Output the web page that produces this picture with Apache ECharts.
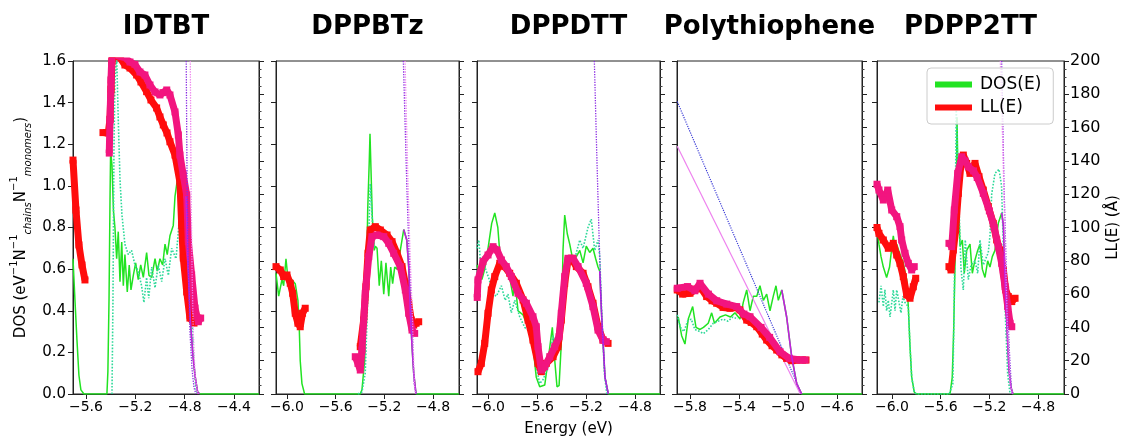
<!DOCTYPE html>
<html>
<head>
<meta charset="utf-8">
<script src="https://cdn.jsdelivr.net/npm/echarts@6/dist/echarts.min.js"></script>
<style>
  html, body { margin: 0; padding: 0; background: #fff; }
  #chart { width: 1126px; height: 438px; }
</style>
</head>
<body>
<div id="chart"></div>
<script>
// ---- data: [energy (eV), value] ----
// IDTBT
var idtbtDos = [[-5.705,0.65],[-5.689,0.45],[-5.673,0.26],[-5.657,0.09],[-5.641,0.02],[-5.616,0],[-5.430,0],[-5.422,0.11],[-5.413,0.45],[-5.405,0.93],[-5.400,1.17],[-5.389,1.10],[-5.377,0.88],[-5.365,0.80],[-5.351,0.65],[-5.338,0.78],[-5.324,0.54],[-5.310,0.73],[-5.297,0.52],[-5.284,0.67],[-5.265,0.49],[-5.249,0.62],[-5.235,0.50],[-5.216,0.57],[-5.197,0.63],[-5.176,0.55],[-5.156,0.62],[-5.135,0.56],[-5.108,0.68],[-5.089,0.57],[-5.067,0.56],[-5.040,0.65],[-5.022,0.59],[-5.000,0.65],[-4.978,0.62],[-4.959,0.72],[-4.941,0.67],[-4.919,0.76],[-4.892,0.81],[-4.878,0.95],[-4.854,1.05],[-4.821,1.06],[-4.789,0.95],[-4.773,0.62],[-4.753,0.35],[-4.732,0.18],[-4.716,0.09],[-4.695,0.01],[-4.675,0],[-4.197,0]];
var idtbtDosDot = [[-5.389,0],[-5.381,0.45],[-5.373,1.17],[-5.365,1.51],[-5.351,1.62],[-5.338,1.32],[-5.324,1.03],[-5.308,0.86],[-5.284,0.72],[-5.257,0.67],[-5.230,0.69],[-5.203,0.62],[-5.176,0.59],[-5.149,0.52],[-5.130,0.44],[-5.108,0.56],[-5.091,0.46],[-5.067,0.61],[-5.040,0.51],[-5.014,0.62],[-4.986,0.54],[-4.959,0.65],[-4.932,0.57],[-4.905,0.70],[-4.870,0.65],[-4.851,0.78],[-4.838,0.89],[-4.805,0.96],[-4.780,0.99],[-4.765,0.90],[-4.748,0.50],[-4.730,0.20],[-4.710,0.03],[-4.695,0]];
var idtbtDrop = [[-4.789,0.95],[-4.773,0.62],[-4.753,0.35],[-4.732,0.18],[-4.716,0.09],[-4.695,0.01],[-4.680,0]];
var idtbtEdgeA = [[-4.795,2.2],[-4.787,1.6],[-4.780,1.0],[-4.770,0.6],[-4.757,0.3],[-4.740,0.12],[-4.724,0.03],[-4.708,0]];
var idtbtEdgeB = [[-4.760,2.2],[-4.754,1.6],[-4.748,1.0],[-4.740,0.6],[-4.730,0.3],[-4.716,0.1],[-4.700,0.02],[-4.690,0]];
var idtbtLL = [[-5.705,140.5],[-5.681,110.5],[-5.657,89.5],[-5.632,77.5],[-5.608,68.5],[-5.55,null],[-5.462,157],[-5.419,156.8],[-5.405,165],[-5.397,183],[-5.389,200],[-5.373,207],[-5.357,203],[-5.324,202],[-5.284,197.6],[-5.243,195.8],[-5.189,191.6],[-5.154,187.4],[-5.108,181.6],[-5.073,176.6],[-5.027,171.8],[-5.0,166.4],[-4.973,161.6],[-4.943,156.8],[-4.919,151.5],[-4.878,143.5],[-4.838,127.3],[-4.824,101.5],[-4.811,81.7],[-4.783,61.3],[-4.757,45.6],[-4.724,42.6],[-4.692,45.6]];
var idtbtLL2 = [[-5.411,144.7],[-5.405,164.6],[-5.397,188.6],[-5.389,205],[-5.340,203],[-5.284,202],[-5.243,199.4],[-5.203,198],[-5.162,193.4],[-5.122,191.6],[-5.081,185.6],[-5.040,181.4],[-5.000,179.6],[-4.976,181],[-4.945,182.6],[-4.919,179.6],[-4.878,169.4],[-4.851,155.6],[-4.838,143.5],[-4.811,131.5],[-4.783,119.5],[-4.770,91.5],[-4.743,71.5],[-4.716,51.6],[-4.689,43.4],[-4.670,45.6]];

// DPPBTz
var dppbtzDos = [[-6.09,0.58],[-6.068,0.47],[-6.041,0.55],[-6.027,0.52],[-6.008,0.65],[-5.986,0.52],[-5.962,0.55],[-5.932,0.53],[-5.910,0.45],[-5.899,0.32],[-5.891,0.16],[-5.877,0.05],[-5.855,0],[-5.398,0],[-5.384,0.02],[-5.362,0.16],[-5.348,0.48],[-5.337,0.88],[-5.324,1.12],[-5.318,1.25],[-5.299,0.85],[-5.283,0.69],[-5.274,0.71],[-5.260,0.70],[-5.242,0.52],[-5.225,0.64],[-5.205,0.48],[-5.187,0.63],[-5.164,0.47],[-5.148,0.61],[-5.132,0.53],[-5.115,0.61],[-5.096,0.60],[-5.069,0.69],[-5.041,0.79],[-5.016,0.74],[-5.000,0.61],[-4.987,0.40],[-4.973,0.23],[-4.959,0.10],[-4.940,0],[-4.587,0]];
var dppbtzDosDot = [[-5.417,0],[-5.384,0.01],[-5.357,0.1],[-5.337,0.45],[-5.324,0.85],[-5.316,1.01],[-5.302,0.86],[-5.283,0.70]];
var dppbtzDrop = [[-5.041,0.79],[-5.016,0.74],[-5.000,0.61],[-4.987,0.40],[-4.973,0.23],[-4.959,0.10],[-4.940,0]];
var dppbtzEdgeA = [[-5.055,1.9],[-5.044,1.6],[-5.016,1.01],[-4.998,0.69],[-4.975,0.37],[-4.956,0.05],[-4.940,0]];
var dppbtzEdgeB = [[-5.040,1.9],[-5.030,1.6],[-5.006,1.01],[-4.990,0.69],[-4.970,0.37],[-4.954,0.05],[-4.944,0]];
var dppbtzLL = [[-6.09,76.5],[-6.055,74.5],[-6.027,70.5],[-6.0,71.5],[-5.973,66.5],[-5.953,60.5],[-5.932,48.5],[-5.910,42.5],[-5.891,40.4],[-5.872,48.5],[-5.850,51.5],[-5.6,null],[-5.398,28.4],[-5.370,44.4],[-5.351,64.4],[-5.334,84.5],[-5.316,98.5],[-5.274,100.5],[-5.233,98.5],[-5.178,95.5],[-5.137,91.5],[-5.096,84.5],[-5.055,76.5],[-5.028,66.5],[-5.000,54.5],[-4.979,44.4],[-4.959,41.4],[-4.940,42.5],[-4.918,43.4]];
var dppbtzLL2 = [[-5.439,22.4],[-5.417,18.4],[-5.398,14.4],[-5.384,26.4],[-5.357,60.5],[-5.328,82.5],[-5.302,94.5],[-5.260,95.5],[-5.205,94.5],[-5.164,90.5],[-5.123,84.5],[-5.069,76.5],[-5.028,62.5],[-5.000,48.5],[-4.973,38.4],[-4.951,36.4]];

// DPPDTT
var dppdttDos = [[-6.09,0.62],[-6.07,0.58],[-6.05,0.55],[-6.027,0.60],[-6.0,0.70],[-5.97,0.82],[-5.945,0.87],[-5.92,0.80],[-5.90,0.65],[-5.891,0.61],[-5.864,0.60],[-5.823,0.56],[-5.796,0.47],[-5.782,0.55],[-5.755,0.40],[-5.714,0.38],[-5.673,0.32],[-5.633,0.23],[-5.606,0.08],[-5.578,0.035],[-5.537,0.043],[-5.510,0.16],[-5.475,0.32],[-5.455,0.16],[-5.437,0.035],[-5.420,0.04],[-5.402,0.24],[-5.388,0.69],[-5.374,0.86],[-5.353,0.77],[-5.333,0.72],[-5.306,0.64],[-5.279,0.66],[-5.251,0.69],[-5.224,0.63],[-5.198,0.71],[-5.170,0.68],[-5.143,0.70],[-5.121,0.65],[-5.102,0.61],[-5.088,0.59],[-5.072,0.37],[-5.045,0.08],[-5.018,0],[-4.596,0]];
var dppdttDosDot = [[-6.09,0.70],[-6.075,0.74],[-6.06,0.62],[-6.04,0.66],[-6.02,0.60],[-5.99,0.55],[-5.96,0.48],[-5.932,0.47],[-5.891,0.52],[-5.86,0.45],[-5.837,0.48],[-5.810,0.39],[-5.782,0.45],[-5.741,0.37],[-5.700,0.32],[-5.660,0.30],[-5.606,0.13],[-5.578,0.05],[-5.55,0.07],[-5.510,0.13],[-5.469,0.28],[-5.429,0.20],[-5.402,0.29],[-5.382,0.48],[-5.347,0.64],[-5.306,0.62],[-5.251,0.74],[-5.224,0.70],[-5.184,0.80],[-5.157,0.84],[-5.129,0.69],[-5.102,0.74],[-5.088,0.66],[-5.072,0.40],[-5.05,0.1],[-5.03,0]];
var dppdttDrop = [[-5.088,0.59],[-5.072,0.37],[-5.045,0.08],[-5.018,0]];
var dppdttEdgeA = [[-5.14,1.9],[-5.132,1.6],[-5.113,1.17],[-5.094,0.77],[-5.072,0.37],[-5.045,0.083],[-5.018,0]];
var dppdttLL = [[-6.082,13.4],[-6.055,18.4],[-6.027,30.4],[-6.0,48.5],[-5.973,62.5],[-5.945,70.5],[-5.904,78.5],[-5.864,76.5],[-5.823,72.5],[-5.769,66.5],[-5.714,56.5],[-5.673,44.4],[-5.633,32.4],[-5.592,18.4],[-5.565,13.4],[-5.524,18.4],[-5.469,22.4],[-5.429,28.4],[-5.402,44.4],[-5.374,66.5],[-5.347,80.5],[-5.320,81.5],[-5.279,76.5],[-5.224,72.5],[-5.184,64.4],[-5.143,54.5],[-5.102,40.4],[-5.061,32.4],[-5.020,30.4]];
var dppdttLL2 = [[-6.088,58],[-6.082,68.5],[-6.041,79.5],[-6.0,83.5],[-5.959,88.5],[-5.927,86.5],[-5.891,80.5],[-5.851,76.5],[-5.810,70.5],[-5.755,60.5],[-5.687,54.5],[-5.633,46.4],[-5.606,40.4],[-5.592,28.4],[-5.565,14.4],[-5.537,16.4],[-5.496,22.4],[-5.455,28.4],[-5.420,34.4],[-5.402,48.5],[-5.374,70.5],[-5.347,81.5],[-5.306,81.5],[-5.265,76.5],[-5.198,66.5],[-5.143,52.5],[-5.102,38.4],[-5.061,32.4],[-5.034,31.4]];

// Polythiophene
var ptDos = [[-5.896,0.37],[-5.868,0.28],[-5.841,0.24],[-5.814,0.36],[-5.778,0.42],[-5.751,0.32],[-5.718,0.31],[-5.69,0.32],[-5.651,0.34],[-5.623,0.39],[-5.60,0.34],[-5.555,0.37],[-5.51,0.38],[-5.47,0.37],[-5.433,0.39],[-5.392,0.36],[-5.365,0.44],[-5.337,0.50],[-5.310,0.40],[-5.283,0.47],[-5.255,0.47],[-5.229,0.52],[-5.201,0.45],[-5.174,0.48],[-5.147,0.40],[-5.120,0.47],[-5.098,0.52],[-5.079,0.45],[-5.051,0.50],[-5.038,0.50],[-5.011,0.37],[-4.970,0.18],[-4.929,0.05],[-4.888,0],[-4.396,0]];
var ptDosDot = [[-5.904,0.38],[-5.878,0.32],[-5.85,0.30],[-5.82,0.35],[-5.79,0.36],[-5.76,0.31],[-5.72,0.30],[-5.69,0.29],[-5.65,0.31],[-5.61,0.34],[-5.57,0.35],[-5.53,0.36],[-5.49,0.35],[-5.45,0.37],[-5.41,0.36]];
var ptDrop = [[-5.051,0.50],[-5.038,0.50],[-5.011,0.37],[-4.970,0.18],[-4.929,0.05],[-4.888,0]];
var ptEdgeA = [[-5.904,1.405],[-4.890,0]];
var ptEdgeB = [[-5.904,1.19],[-4.900,0]];
var ptLL = [[-5.904,62.5],[-5.86,60],[-5.80,60.5],[-5.75,63],[-5.718,64.4],[-5.664,58.5],[-5.62,56],[-5.582,54.5],[-5.53,52],[-5.473,51.5],[-5.43,52],[-5.392,50.5],[-5.337,44.4],[-5.30,43],[-5.255,40.4],[-5.21,36],[-5.174,32.4],[-5.13,29],[-5.092,26.4],[-5.05,23.5],[-5.011,21.4],[-4.97,20],[-4.929,20.4],[-4.853,20.4]];
var ptLL2 = [[-5.904,63.5],[-5.82,64.5],[-5.76,62],[-5.718,66.5],[-5.65,60],[-5.582,56],[-5.50,54],[-5.419,52.5],[-5.36,48],[-5.310,46.4],[-5.22,40],[-5.15,34],[-5.065,25.4],[-4.99,21.4],[-4.90,20.4],[-4.86,20.4]];

// PDPP2TT
var pdppDos = [[-6.123,0.80],[-6.107,0.72],[-6.09,0.66],[-6.071,0.61],[-6.044,0.56],[-6.02,0.61],[-6.002,0.70],[-5.989,0.76],[-5.975,0.70],[-5.961,0.72],[-5.94,0.68],[-5.907,0.63],[-5.879,0.55],[-5.866,0.42],[-5.852,0.23],[-5.838,0.08],[-5.817,0.01],[-5.80,0],[-5.523,0],[-5.505,0.08],[-5.493,0.31],[-5.482,0.63],[-5.472,0.85],[-5.466,1.33],[-5.455,0.95],[-5.441,0.71],[-5.422,0.74],[-5.406,0.58],[-5.386,0.69],[-5.359,0.72],[-5.340,0.58],[-5.32,0.64],[-5.296,0.69],[-5.277,0.72],[-5.258,0.60],[-5.236,0.56],[-5.214,0.64],[-5.195,0.61],[-5.176,0.66],[-5.154,0.69],[-5.127,0.82],[-5.099,0.87],[-5.085,0.81],[-5.071,0.55],[-5.055,0.31],[-5.039,0.115],[-5.022,0.03],[-5.006,0],[-4.587,0]];
var pdppDosDot = [[-6.107,0.44],[-6.09,0.52],[-6.071,0.42],[-6.058,0.50],[-6.044,0.40],[-6.030,0.45],[-6.016,0.37],[-5.989,0.50],[-5.975,0.40],[-5.961,0.50],[-5.926,0.39],[-5.91,0.47],[-5.893,0.44],[-5.866,0.42],[-5.852,0.23],[-5.838,0.08],[-5.817,0.01],[-5.80,0],[-5.53,0],[-5.50,0.05],[-5.49,0.4],[-5.48,0.9],[-5.472,1.38],[-5.46,1.1],[-5.433,0.60],[-5.414,0.50],[-5.398,0.74],[-5.373,0.55],[-5.35,0.62],[-5.318,0.64],[-5.296,0.58],[-5.277,0.74],[-5.25,0.62],[-5.209,0.68],[-5.195,0.76],[-5.181,0.96],[-5.154,1.06],[-5.121,1.08],[-5.10,1.00],[-5.085,0.70],[-5.07,0.4],[-5.05,0.1],[-5.03,0]];
var pdppDrop = [[-5.099,0.87],[-5.085,0.81],[-5.071,0.55],[-5.055,0.31],[-5.039,0.115],[-5.022,0.03],[-5.006,0]];
var pdppEdgeA = [[-5.11,1.9],[-5.099,1.6],[-5.080,1.01],[-5.058,0.53],[-5.036,0.21],[-5.016,0]];
var pdppEdgeB = [[-5.125,1.9],[-5.11,1.6],[-5.09,1.2],[-5.07,0.7],[-5.05,0.3],[-5.03,0.05],[-5.01,0]];
var pdppLL = [[-6.123,100],[-6.107,96.5],[-6.071,92.5],[-6.030,87.5],[-5.989,90.5],[-5.961,83.5],[-5.934,78.5],[-5.907,70.5],[-5.879,59.5],[-5.852,57.5],[-5.825,64.4],[-5.805,69.5],[-5.7,null],[-5.532,76.5],[-5.515,74.5],[-5.496,86.5],[-5.477,98.5],[-5.455,120.5],[-5.433,138.5],[-5.414,143.5],[-5.386,138.5],[-5.359,132.5],[-5.340,136.5],[-5.318,138.5],[-5.285,130.5],[-5.250,122.5],[-5.209,112.5],[-5.168,102.5],[-5.140,92.5],[-5.113,86.5],[-5.085,74.5],[-5.066,62.5],[-5.044,58.5],[-5.016,55.5],[-4.989,57.5]];
var pdppLL2 = [[-6.123,126],[-6.107,122.5],[-6.071,116.5],[-6.035,122.5],[-6.002,110.5],[-5.961,106.5],[-5.934,100.5],[-5.920,92.5],[-5.893,84.5],[-5.866,78.5],[-5.838,74.5],[-5.817,76.5],[-5.7,null],[-5.532,90.5],[-5.509,88.5],[-5.488,110.5],[-5.460,132.5],[-5.427,142.5],[-5.40,140],[-5.373,136.5],[-5.33,134],[-5.30,130],[-5.250,120.5],[-5.20,110],[-5.16,100],[-5.127,88.5],[-5.099,78.5],[-5.071,64.4],[-5.049,52.5],[-5.030,42.5],[-5.016,40.4]];

var panelNames = ['IDTBT', 'DPPBTz', 'DPPDTT', 'Polythiophene', 'PDPP2TT'];
var panelTicks = [[-5.6,-5.2,-4.8,-4.4], [-6.0,-5.6,-5.2,-4.8], [-6.0,-5.6,-5.2,-4.8], [-5.8,-5.4,-5.0,-4.6], [-6.0,-5.6,-5.2,-4.8]];
var panelMin = [-5.705, -6.09, -6.09, -5.906, -6.123];
var panelMax = [-4.197, -4.587, -4.596, -4.396, -4.587];

// layout (pixels)
var panelLeft = [73, 276, 477, 677, 877];
var panelWidth = [186, 183, 183, 185, 187];
var gridTop = 61, gridHeight = 333;

var font = 'DejaVu Sans';
var cDos = '#22e322', cDot = '#2fd99a', cRed = '#ff0d0d', cPink = '#f2157f',
    cViolet = '#8a2be2', cOrchid = '#ee82ee', cDrop = '#c51fe0', cBlue = '#3b3bd6';

var dom = document.getElementById('chart');
var myChart = echarts.init(dom);

function minus(v, d) {
	return v.toFixed(d).replace('-', '\u2212');
}

var grids = [], xAxes = [], yAxes = [], graphics = [], series = [];

for (var i = 0; i < 5; i++) {
	grids.push({
		left: panelLeft[i], top: gridTop, width: panelWidth[i], height: gridHeight,
		show: true, borderColor: '#222', borderWidth: 1, containLabel: false, outerBoundsMode: 'none'
	});
	xAxes.push({
		type: 'value', gridIndex: i, min: panelMin[i], max: panelMax[i],
		axisLine: { show: true, onZero: false, lineStyle: { color: '#222' } },
		axisTick: { show: true, customValues: panelTicks[i], length: 5, lineStyle: { color: '#222' } },
		axisLabel: {
			customValues: panelTicks[i], fontFamily: font, fontSize: 14, color: '#000', margin: 6,
			formatter: function (v) { return minus(v, 1); }
		},
		splitLine: { show: false },
		name: i == 2 ? 'Energy (eV)' : '',
		nameLocation: 'middle', nameGap: 28,
		nameTextStyle: { fontFamily: font, fontSize: 15, color: '#000' }
	});
	yAxes.push({
		type: 'value', gridIndex: i, position: 'left', min: 0, max: 1.6, interval: 0.2,
		axisLine: { show: true, lineStyle: { color: '#222' } },
		axisTick: { show: true, length: 5, lineStyle: { color: '#222' } },
		axisLabel: {
			show: i == 0, fontFamily: font, fontSize: 15, color: '#000', margin: 7,
			formatter: function (v) { return v.toFixed(1); }
		},
		splitLine: { show: false },
		name: i == 0 ? 'DOS (eV{sup|\u22121}N{sup|\u22121}{sub|chains}N{sup|\u22121}{sub|monomers})' : '',
		nameLocation: 'middle', nameGap: 40, nameRotate: 90,
		nameTextStyle: {
			fontFamily: font, fontSize: 15, color: '#000', lineHeight: 24,
			rich: {
				sup: { fontFamily: font, fontSize: 10, color: '#000', verticalAlign: 'top', lineHeight: 12 },
				sub: { fontFamily: font, fontSize: 10, fontStyle: 'italic', color: '#000', verticalAlign: 'bottom', lineHeight: 12 }
			}
		}
	});
	yAxes.push({
		type: 'value', gridIndex: i, position: 'right', min: 0, max: 200, interval: 20,
		axisLine: { show: true, lineStyle: { color: '#222' } },
		axisTick: { show: true, length: 5, lineStyle: { color: '#222' } },
		minorTick: { show: true, splitNumber: 4, length: 2.5, lineStyle: { color: '#444' } },
		axisLabel: { show: i == 4, fontFamily: font, fontSize: 16, color: '#000', margin: 6 },
		splitLine: { show: false },
		name: i == 4 ? 'LL(E) (\u00c5)' : '',
		nameLocation: 'middle', nameGap: 42, nameRotate: 90,
		nameTextStyle: { fontFamily: font, fontSize: 15, color: '#000' }
	});
	graphics.push({
		type: 'text', x: panelLeft[i] + panelWidth[i] / 2, y: 27,
		style: { text: panelNames[i], font: 'bold 26px "DejaVu Sans"', fill: '#000', align: 'center', verticalAlign: 'middle' }
	});
}

function addLine(p, name, data, right, color, width, type, z) {
	series.push({
		type: 'line', name: name, data: data,
		xAxisIndex: p, yAxisIndex: p * 2 + (right ? 1 : 0),
		showSymbol: false, symbol: 'none', connectNulls: false, clip: true,
		lineStyle: { color: color, width: width, type: type },
		itemStyle: { color: color },
		z: z, animation: false
	});
}

function addLL(p, name, data, color, z) {
	series.push({
		type: 'line', name: name, data: data,
		xAxisIndex: p, yAxisIndex: p * 2 + 1,
		showSymbol: true, symbol: 'rect', symbolSize: 7, connectNulls: false, clip: true,
		lineStyle: { color: color, width: 7 },
		itemStyle: { color: color },
		z: z, animation: false
	});
}

var panelData = [
	[idtbtDos, idtbtDosDot, idtbtDrop, idtbtEdgeA, idtbtEdgeB, idtbtLL, idtbtLL2],
	[dppbtzDos, dppbtzDosDot, dppbtzDrop, dppbtzEdgeA, dppbtzEdgeB, dppbtzLL, dppbtzLL2],
	[dppdttDos, dppdttDosDot, dppdttDrop, dppdttEdgeA, null, dppdttLL, dppdttLL2],
	[ptDos, ptDosDot, ptDrop, null, null, ptLL, ptLL2],
	[pdppDos, pdppDosDot, pdppDrop, pdppEdgeA, pdppEdgeB, pdppLL, pdppLL2]
];

for (var p = 0; p < 5; p++) {
	var d = panelData[p];
	addLine(p, 'DOS(E)', d[0], false, cDos, 1.5, 'solid', 2);
	addLine(p, 'dos dotted ' + p, d[1], false, cDot, 1.6, 'dotted', 2);
	if (p == 3) {
		addLine(p, 'edge a ' + p, ptEdgeA, false, cBlue, 1.2, 'dotted', 3);
		addLine(p, 'edge b ' + p, ptEdgeB, false, cOrchid, 1.2, 'solid', 3);
	}
	addLL(p, 'LL(E)', d[5], cRed, 4);
	addLL(p, 'LL2 ' + p, d[6], cPink, 5);
	addLine(p, 'drop ' + p, d[2], false, cDrop, 1.6, 'solid', 6);
	if (d[3]) addLine(p, 'edge a ' + p, d[3], false, cViolet, 1.3, 'dotted', 6);
	if (d[4]) addLine(p, 'edge b ' + p, d[4], false, cOrchid, 1.3, 'dotted', 6);
}

option = {
	backgroundColor: '#fff',
	animation: false,
	grid: grids,
	xAxis: xAxes,
	yAxis: yAxes,
	graphic: graphics,
	legend: {
		data: [{ name: 'DOS(E)', icon: 'rect' }, { name: 'LL(E)', icon: 'rect' }],
		orient: 'vertical', left: 927, top: 68,
		itemWidth: 37, itemHeight: 6, itemGap: 6,
		padding: [8, 12, 8, 8],
		backgroundColor: 'rgba(255,255,255,0.8)', borderColor: '#ccc', borderWidth: 1, borderRadius: 4,
		selectedMode: false,
		textStyle: { fontFamily: font, fontSize: 17, color: '#000', padding: [0, 0, 0, 3] },
		z: 10
	},
	series: series
};

if (option && typeof option === "object") {
	myChart.setOption(option, true);
}
</script>
</body>
</html>
